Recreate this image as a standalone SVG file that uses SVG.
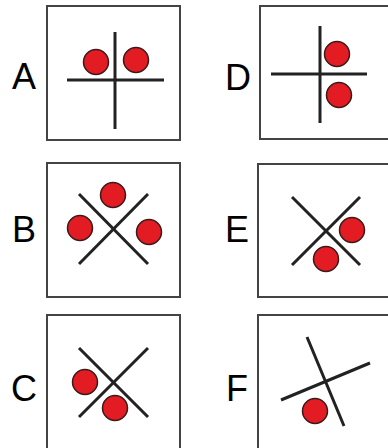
<svg xmlns="http://www.w3.org/2000/svg" width="388" height="448" viewBox="0 0 388 448">
<style>
.box{fill:#fff;stroke:#444;stroke-width:2}
.ln{stroke:#222;stroke-width:3;stroke-linecap:butt}
.dot{fill:#e31b23;stroke:#3a1a1a;stroke-width:1.5}
.lbl{font-family:"Liberation Sans",Arial,sans-serif;font-size:36px;fill:#000}
</style>
<rect width="388" height="448" fill="#fff"/>
<g id="A">
<rect class="box" x="47" y="6" width="133" height="134"/>
<text class="lbl" x="12" y="89">A</text>
<line class="ln" x1="115" y1="32" x2="115" y2="129"/>
<line class="ln" x1="67" y1="80" x2="164" y2="80"/>
<circle class="dot" cx="96" cy="62" r="12.5"/>
<circle class="dot" cx="136" cy="60" r="12.5"/>
</g>
<g id="D">
<rect class="box" x="260" y="6" width="134" height="133"/>
<text class="lbl" x="225" y="90">D</text>
<line class="ln" x1="320" y1="26" x2="320" y2="123"/>
<line class="ln" x1="271" y1="74" x2="367" y2="74"/>
<circle class="dot" cx="337" cy="54" r="12.5"/>
<circle class="dot" cx="339" cy="95" r="12.5"/>
</g>
<g id="B">
<rect class="box" x="47" y="163" width="133" height="134"/>
<text class="lbl" x="12" y="242">B</text>
<line class="ln" x1="79" y1="194" x2="148" y2="264"/>
<line class="ln" x1="148" y1="194" x2="79" y2="264"/>
<circle class="dot" cx="113" cy="195" r="12.5"/>
<circle class="dot" cx="80" cy="228" r="12.5"/>
<circle class="dot" cx="149" cy="232" r="12.5"/>
</g>
<g id="E">
<rect class="box" x="258" y="164" width="136" height="133"/>
<text class="lbl" x="225" y="242">E</text>
<line class="ln" x1="292" y1="197" x2="360" y2="265"/>
<line class="ln" x1="360" y1="197" x2="292" y2="265"/>
<circle class="dot" cx="352" cy="230" r="12.5"/>
<circle class="dot" cx="326" cy="259" r="12.5"/>
</g>
<g id="C">
<rect class="box" x="47" y="315" width="133" height="140"/>
<text class="lbl" x="11" y="401">C</text>
<line class="ln" x1="79" y1="348" x2="148" y2="417"/>
<line class="ln" x1="148" y1="348" x2="79" y2="417"/>
<circle class="dot" cx="85" cy="382" r="12.5"/>
<circle class="dot" cx="115" cy="408" r="12.5"/>
</g>
<g id="F">
<rect class="box" x="258" y="315" width="136" height="140"/>
<text class="lbl" x="226" y="401">F</text>
<line class="ln" x1="307" y1="337" x2="344" y2="426"/>
<line class="ln" x1="281" y1="400" x2="370" y2="363"/>
<circle class="dot" cx="315" cy="411" r="12.5"/>
</g>
<g id="connectors"></g>
</svg>
